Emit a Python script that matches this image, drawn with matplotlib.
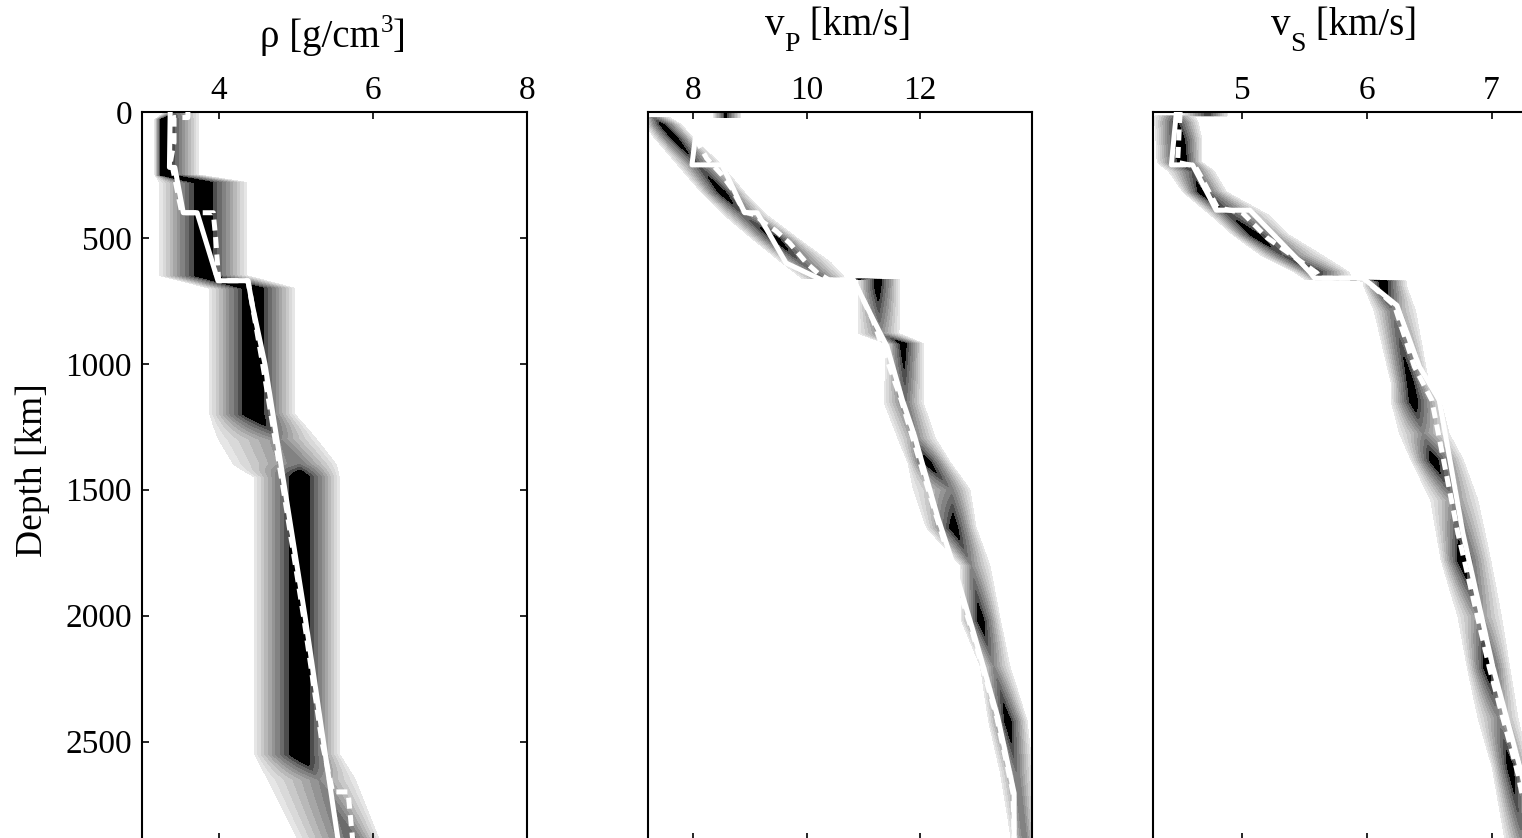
import numpy as np
import matplotlib
matplotlib.use('Agg')
import matplotlib.pyplot as plt

plt.rcParams['font.family'] = ['Liberation Serif', 'DejaVu Serif']

# ---------------- data ----------------
CMB = 2891.0
depth_ticks = [0, 500, 1000, 1500, 2000, 2500]

# posterior density knots: depth, lower edge, mode, upper edge, peak strength
rho_kd   = [0, 30, 250, 280, 650, 700, 1200, 1300, 1400, 1450, 2550, 2650, 2891]
rho_lo   = [3.30, 3.17, 3.17, 3.22, 3.22, 3.87, 3.87, 3.95, 4.15, 4.45, 4.45, 4.60, 5.00]
rho_mode = [3.45, 3.27, 3.27, 3.80, 3.80, 4.45, 4.45, 4.80, 5.05, 5.06, 5.06, 5.30, 5.75]
rho_hi   = [3.75, 3.75, 3.75, 4.38, 4.38, 5.00, 5.00, 5.30, 5.55, 5.58, 5.58, 5.80, 6.10]
rho_pk   = [0.55, 1.05, 1.05, 1.00, 1.00, 1.05, 1.05, 0.50, 0.60, 1.05, 1.05, 0.50, 0.70]

vp_kd   = [0, 22, 22.5, 50, 100, 211, 320, 412, 503, 598, 660, 665, 690, 880, 920,
           1154, 1300, 1393, 1500, 1650, 1800, 2020, 2200, 2420, 2620, 2891]
vp_lo   = [8.35, 8.35, 7.15, 7.15, 7.30, 7.72, 8.14, 8.55, 9.03, 9.55, 9.90, 10.90, 10.90,
           10.90, 11.40, 11.35, 11.60, 11.78, 11.85, 12.10, 12.70, 12.72, 13.05, 13.20, 13.40, 13.60]
vp_mode = [8.57, 8.57, 7.30, 7.45, 7.66, 8.09, 8.51, 8.90, 9.45, 9.90, 10.30, 11.25, 11.25,
           11.30, 11.70, 11.75, 11.95, 12.13, 12.55, 12.60, 12.90, 13.07, 13.30, 13.55, 13.70, 13.85]
vp_hi   = [8.85, 8.85, 7.60, 7.80, 8.00, 8.52, 8.92, 9.33, 9.86, 10.45, 10.70, 11.65, 11.65,
           11.65, 12.07, 12.07, 12.30, 12.55, 12.90, 13.00, 13.25, 13.43, 13.60, 13.90, 14.00, 14.05]
vp_pk   = [0.85, 0.85, 0.60, 0.90, 0.95, 0.70, 0.95, 0.65, 0.95, 0.65, 0.60, 0.95, 0.95,
           0.50, 0.95, 0.60, 0.50, 0.95, 0.55, 0.95, 0.50, 0.95, 0.50, 0.95, 0.60, 0.60]

vs_kd   = [0, 15, 15.5, 40, 110, 200, 235, 318, 409, 488, 568, 635, 665, 670, 690, 790,
           1077, 1150, 1276, 1382, 1540, 1779, 2004, 2204, 2403, 2601, 2891]
vs_lo   = [4.52, 4.52, 4.29, 4.29, 4.30, 4.31, 4.40, 4.52, 4.74, 4.92, 5.14, 5.41, 5.50, 5.97,
           5.97, 6.05, 6.19, 6.19, 6.25, 6.35, 6.50, 6.59, 6.72, 6.80, 6.88, 7.00, 7.10]
vs_mode = [4.72, 4.72, 4.45, 4.47, 4.50, 4.52, 4.60, 4.66, 4.90, 5.09, 5.32, 5.60, 5.65, 6.13,
           6.13, 6.20, 6.35, 6.37, 6.45, 6.53, 6.70, 6.75, 6.90, 6.96, 7.05, 7.15, 7.25]
vs_hi   = [4.89, 4.89, 4.62, 4.65, 4.68, 4.68, 4.78, 4.88, 5.22, 5.38, 5.65, 5.86, 5.90, 6.32,
           6.32, 6.40, 6.50, 6.60, 6.67, 6.78, 6.90, 7.00, 7.09, 7.15, 7.22, 7.30, 7.42]
vs_pk   = [0.80, 0.80, 0.60, 0.85, 1.00, 1.00, 0.70, 0.90, 0.75, 0.95, 0.70, 0.85, 0.60, 1.00,
           1.00, 0.55, 0.95, 0.95, 0.50, 0.95, 0.50, 0.95, 0.50, 0.95, 0.50, 0.95, 0.55]

# reference model (solid white)
rho_ref_d = [0, 220, 220, 400, 400, 670, 670, 771, 1000, 1500, 2000, 2500, 2891]
rho_ref   = [3.37, 3.36, 3.43, 3.54, 3.72, 3.99, 4.38, 4.44, 4.60, 4.86, 5.12, 5.36, 5.55]
vp_ref_d  = [100, 210, 210, 400, 400, 600, 667, 667, 826, 932, 1144, 1276, 1607, 1806, 2071, 2402, 2705, 2891]
vp_ref    = [8.04, 7.98, 8.51, 8.91, 9.13, 9.64, 10.27, 10.83, 11.18, 11.42, 11.69, 11.89,
             12.31, 12.60, 12.95, 13.37, 13.66, 13.66]
vs_ref_d  = [0, 210, 210, 390, 390, 635, 660, 660, 768, 1011, 1144, 1673, 2203, 2626, 2891]
vs_ref    = [4.47, 4.43, 4.60, 4.79, 5.06, 5.54, 5.58, 5.97, 6.24, 6.42, 6.58, 6.77, 7.01, 7.24, 7.36]

# second model (dashed white)
rho_alt_d = [0, 22, 22, 120, 220, 220, 400, 400, 500, 670, 670, 1000, 1500, 2000, 2500, 2700, 2700, 2891]
rho_alt   = [3.60, 3.60, 3.42, 3.42, 3.36, 3.40, 3.52, 3.93, 3.96, 4.00, 4.38, 4.57, 4.84,
             5.10, 5.34, 5.48, 5.68, 5.74]
vp_alt_d  = [104, 184, 250, 303, 396, 409, 440, 470, 520, 560, 600, 640, 667, 667, 826, 1144,
             1607, 2071, 2402, 2705, 2891]
vp_alt    = [8.04, 8.24, 8.51, 8.68, 8.90, 9.10, 9.25, 9.45, 9.70, 9.85, 10.00, 10.20, 10.40,
             10.83, 11.17, 11.67, 12.29, 12.93, 13.35, 13.64, 13.66]
vs_alt_d  = [0, 200, 215, 250, 380, 400, 500, 640, 660, 660, 768, 1011, 1144, 1673, 2203, 2626, 2891]
vs_alt    = [4.50, 4.48, 4.62, 4.66, 4.80, 5.00, 5.20, 5.60, 5.62, 5.97, 6.22, 6.38, 6.52,
             6.73, 6.98, 7.21, 7.32]

panels = [
    dict(main='ρ [g/cm', sub='3', sub_dy=-15, sub_fs=18, rest=']', xlim=(3.0, 8.0),
         xticks=[4, 6, 8], knots=(rho_kd, rho_lo, rho_mode, rho_hi, rho_pk),
         ref=(rho_ref, rho_ref_d), alt=(rho_alt, rho_alt_d), px=(141.7, 526.7),
         tb=47, tcx=333),
    dict(main='v', sub='P', sub_dy=16, sub_fs=20, rest=' [km/s]', xlim=(7.2, 13.98),
         xticks=[8, 10, 12], knots=(vp_kd, vp_lo, vp_mode, vp_hi, vp_pk),
         ref=(vp_ref, vp_ref_d), alt=(vp_alt, vp_alt_d), px=(647.7, 1032.3),
         tb=35, tcx=838),
    dict(main='v', sub='S', sub_dy=16, sub_fs=20, rest=' [km/s]', xlim=(4.28, 7.37),
         xticks=[5, 6, 7], knots=(vs_kd, vs_lo, vs_mode, vs_hi, vs_pk),
         ref=(vs_ref, vs_ref_d), alt=(vs_alt, vs_alt_d), px=(1152.7, 1537.7),
         tb=35, tcx=1344),
]

LEVELS = [0.03, 0.10, 0.18, 0.26, 0.34, 0.42, 0.50, 0.60, 0.70, 0.80, 100]
GREYS = [str(g) for g in [0.90, 0.85, 0.79, 0.72, 0.65, 0.58, 0.51, 0.42, 0.30, 0.0]]

W, H = 1522, 838
fig = plt.figure(figsize=(W / 100, H / 100), dpi=100)
renderer = fig.canvas.get_renderer()
TOP_PX, BOT_PX = 112, 840
FS_TICK, FS_TITLE = 24, 28

for i, p in enumerate(panels):
    x0, x1 = p['px']
    ax = fig.add_axes([x0 / W, 1 - BOT_PX / H, (x1 - x0) / W, (BOT_PX - TOP_PX) / H])
    kd, lo, mo, hi, pk = p['knots']
    D = np.linspace(0, CMB, 1400)
    X = np.linspace(p['xlim'][0] - 0.05, p['xlim'][1] + 0.1, 800)
    L = np.interp(D, kd, lo)[:, None]
    M = np.interp(D, kd, mo)[:, None]
    Hh = np.interp(D, kd, hi)[:, None]
    P = np.interp(D, kd, pk)[:, None]
    XX = X[None, :]
    left = (XX - L) / np.maximum(M - L, 1e-6)
    right = (Hh - XX) / np.maximum(Hh - M, 1e-6)
    tent = np.where(XX < M, left, right)
    F = P * np.clip(tent, 0, 1)
    ax.contourf(X, D, F, levels=LEVELS, colors=GREYS)

    av, ad = p['alt']
    ax.plot(av, ad, color='white', lw=3.6, ls=(0, (2.2, 1.3)), zorder=3)
    rv, rd = p['ref']
    ax.plot(rv, rd, color='white', lw=3.6, zorder=4)

    ax.set_xlim(*p['xlim'])
    ax.set_ylim(CMB, 0)
    ax.set_xticks(p['xticks'])
    ax.set_xticklabels([str(t) for t in p['xticks']])
    ax.tick_params(axis='x', direction='in', top=True, bottom=True, labeltop=True,
                   labelbottom=False, length=5, width=1.2, labelsize=FS_TICK, pad=4)
    if i == 0:
        ax.set_yticks(depth_ticks)
        ax.set_yticklabels([str(t) for t in depth_ticks])
        ax.tick_params(axis='y', direction='in', left=True, right=True, length=5,
                       width=1.2, labelsize=FS_TICK, pad=7)
    else:
        ax.set_yticks([])
    for s in ax.spines.values():
        s.set_linewidth(1.5)

    # title: main text + sub/superscript + rest
    yb = 1 - p['tb'] / H
    t1 = fig.text(0, yb, p['main'], fontsize=FS_TITLE, va='baseline', ha='left')
    t2 = fig.text(0, yb - p['sub_dy'] / H, p['sub'], fontsize=p['sub_fs'],
                  va='baseline', ha='left')
    t3 = fig.text(0, yb, p['rest'], fontsize=FS_TITLE, va='baseline', ha='left')
    w1 = t1.get_window_extent(renderer).width
    w2 = t2.get_window_extent(renderer).width
    w3 = t3.get_window_extent(renderer).width
    start = p['tcx'] - (w1 + w2 + w3) / 2
    t1.set_x(start / W)
    t2.set_x((start + w1) / W)
    t3.set_x((start + w1 + w2) / W)

fig.text(33 / W, 1 - 470 / H, 'Depth [km]', rotation=90, ha='center', va='center', fontsize=27)

fig.savefig('out.png', dpi=100)
